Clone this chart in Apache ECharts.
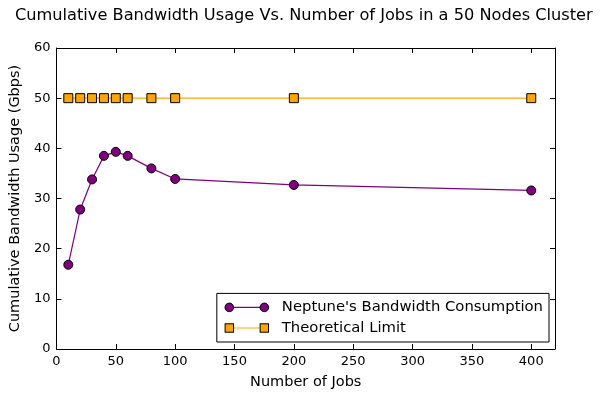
<!DOCTYPE html>
<html>
<head>
<meta charset="utf-8">
<script src="https://cdn.jsdelivr.net/npm/echarts@6/dist/echarts.min.js"></script>
<style>
  html, body { margin: 0; padding: 0; background: #fff; }
  #chart { width: 608px; height: 395px; }
</style>
</head>
<body>
<div id="chart"></div>
<script>
// Number of jobs submitted to the cluster
const jobs = [10, 20, 30, 40, 50, 60, 80, 100, 200, 400];
// Measured cumulative bandwidth (Gbps)
const neptuneBandwidth = [16.8, 27.8, 33.8, 38.5, 39.3, 38.5, 36.0, 33.9, 32.7, 31.6];
// Upper bound for a 50-node cluster (Gbps)
const theoreticalLimit = [50, 50, 50, 50, 50, 50, 50, 50, 50, 50];
// Tick labels
const xTicks = [0, 50, 100, 150, 200, 250, 300, 350, 400];
const yTicks = [0, 10, 20, 30, 40, 50, 60];

const FONT = 'DejaVu Sans';
const PURPLE = '#800080';
const ORANGE = '#FFA500';

// Legend handles: a short line with a marker at each end
function handle(color, shape) {
  const m = shape === 'circle'
    ? `<circle cx="5.5" cy="6" r="4.3" fill="${color}" stroke="#000" stroke-width="1"/>` +
      `<circle cx="40.5" cy="6" r="4.3" fill="${color}" stroke="#000" stroke-width="1"/>`
    : `<rect x="1.3" y="1.8" width="8.4" height="8.4" fill="${color}" stroke="#000" stroke-width="1"/>` +
      `<rect x="36.3" y="1.8" width="8.4" height="8.4" fill="${color}" stroke="#000" stroke-width="1"/>`;
  const svg = `<svg xmlns="http://www.w3.org/2000/svg" width="46" height="12" viewBox="0 0 46 12">` +
    `<line x1="5.5" y1="6" x2="40.5" y2="6" stroke="${color}" stroke-width="1.2"/>` + m + `</svg>`;
  return 'image://data:image/svg+xml;charset=utf-8,' + encodeURIComponent(svg);
}

const chart = echarts.init(document.getElementById('chart'), null, { renderer: 'canvas' });

const frameLine = { show: true, onZero: false, lineStyle: { color: '#000', width: 1 } };
const tickIn = { show: true, inside: true, length: 5, lineStyle: { color: '#000', width: 1 } };

chart.setOption({
  animation: false,
  backgroundColor: '#fff',
  title: {
    text: 'Cumulative Bandwidth Usage Vs. Number of Jobs in a 50 Nodes Cluster',
    left: 10, top: 3,
    textStyle: { fontFamily: FONT, fontSize: 16.2, fontWeight: 'normal', color: '#000' }
  },
  grid: { left: 55, right: 53, top: 48, bottom: 46 },
  legend: {
    right: 59, bottom: 53,
    orient: 'vertical',
    itemGap: 4.6,
    itemWidth: 46, itemHeight: 12,
    padding: [6, 6, 6, 7],
    borderColor: '#000', borderWidth: 1,
    textStyle: { fontFamily: FONT, fontSize: 14.8, lineHeight: 16, color: '#000', padding: [0, 0, 0, 7] },
    data: [
      { name: "Neptune's Bandwidth Consumption", icon: handle(PURPLE, 'circle') },
      { name: 'Theoretical Limit', icon: handle(ORANGE, 'rect') }
    ]
  },
  xAxis: [{
    type: 'value', min: 0, max: 420,
    name: 'Number of Jobs', nameLocation: 'middle', nameGap: 26,
    nameTextStyle: { fontFamily: FONT, fontSize: 14.5, color: '#000' },
    axisLine: frameLine,
    axisTick: Object.assign({ customValues: xTicks }, tickIn),
    axisLabel: { customValues: xTicks, fontFamily: FONT, fontSize: 13, color: '#000', margin: 6 },
    splitLine: { show: false }
  }, {
    type: 'value', min: 0, max: 420, position: 'top',
    axisLine: frameLine,
    axisTick: Object.assign({ customValues: xTicks }, tickIn),
    axisLabel: { show: false },
    splitLine: { show: false }
  }],
  yAxis: [{
    type: 'value', min: 0, max: 60, interval: 10,
    name: 'Cumulative Bandwidth Usage (Gbps)', nameLocation: 'middle', nameGap: 32,
    nameTextStyle: { fontFamily: FONT, fontSize: 14.5, color: '#000' },
    axisLine: frameLine,
    axisTick: Object.assign({ customValues: yTicks }, tickIn),
    axisLabel: { customValues: yTicks, fontFamily: FONT, fontSize: 13, color: '#000', margin: 6 },
    splitLine: { show: false }
  }, {
    type: 'value', min: 0, max: 60, interval: 10, position: 'right',
    axisLine: frameLine,
    axisTick: Object.assign({ customValues: yTicks }, tickIn),
    axisLabel: { show: false },
    splitLine: { show: false }
  }],
  series: [{
    name: "Neptune's Bandwidth Consumption",
    type: 'line',
    data: jobs.map((j, i) => [j, neptuneBandwidth[i]]),
    symbol: 'circle', symbolSize: 9,
    lineStyle: { color: PURPLE, width: 1.2 },
    itemStyle: { color: PURPLE, borderColor: '#000', borderWidth: 1 },
    z: 3
  }, {
    name: 'Theoretical Limit',
    type: 'line',
    data: jobs.map((j, i) => [j, theoreticalLimit[i]]),
    symbol: 'rect', symbolSize: 9,
    lineStyle: { color: ORANGE, width: 1.2 },
    itemStyle: { color: ORANGE, borderColor: '#000', borderWidth: 1 },
    z: 3
  }]
});
</script>
</body>
</html>
